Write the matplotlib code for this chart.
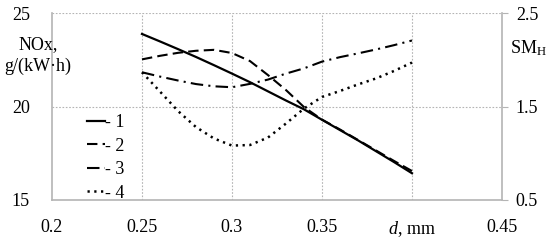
import matplotlib
matplotlib.use('Agg')
import matplotlib.pyplot as plt

plt.rcParams['font.family'] = ['Liberation Serif', 'DejaVu Serif']
plt.rcParams['mathtext.fontset'] = 'custom'
plt.rcParams['mathtext.rm'] = 'Liberation Serif'
plt.rcParams['mathtext.it'] = 'Liberation Serif:italic'

# nozzle hole diameter d, mm
d = [0.25, 0.26, 0.27, 0.28, 0.29, 0.30, 0.31, 0.32,
     0.33, 0.34, 0.35, 0.36, 0.37, 0.38, 0.39, 0.40]

# NOx, g/(kW*h)
nox_1 = [23.88, 23.48, 23.07, 22.65, 22.21, 21.76, 21.30, 20.81,
         20.32, 19.85, 19.29, 18.74, 18.19, 17.61, 17.03, 16.43]
nox_2 = [22.52, 22.71, 22.87, 22.98, 23.03, 22.86, 22.43, 21.68,
         20.88, 19.97, 19.30, 18.77, 18.21, 17.65, 17.09, 16.55]
# SM_H
sm_3 = [1.866, 1.820, 1.778, 1.740, 1.716, 1.706, 1.742, 1.788,
        1.852, 1.908, 1.980, 2.028, 2.068, 2.110, 2.156, 2.206]
sm_4 = [1.866, 1.660, 1.452, 1.280, 1.158, 1.082, 1.088, 1.168,
        1.318, 1.478, 1.602, 1.666, 1.736, 1.800, 1.880, 1.970]

xticks = [0.2, 0.25, 0.3, 0.35, 0.4, 0.45]
xticklabels = ['0.2', '0.25', '0.3', '0.35', r'$\it{d}$, mm', '0.45']
yticks_left = [15, 20, 25]
yticks_right = [0.5, 1.5, 2.5]

fig = plt.figure(figsize=(5.5, 2.4), dpi=100)
ax = fig.add_axes([0.0945, 0.1667, 0.8182, 0.7791])
ax2 = ax.twinx()

gray = '#b4b4b4'
fs = 13

l1, = ax.plot(d, nox_1, color='black', lw=1.6, label='- 1')
l2, = ax.plot(d, nox_2, color='black', lw=1.5, dashes=(5, 2.5), label='- 2')
l3, = ax2.plot(d, sm_3, color='black', lw=1.5, dashes=(6, 2.5, 1, 2.5), label='- 3')
l4, = ax2.plot(d, sm_4, color='black', lw=1.8, dashes=(0.9, 1.8), label='- 4')

ax.set_xlim(0.2, 0.45)
ax.set_ylim(15, 25)
ax2.set_ylim(0.5, 2.5)

ax.set_xticks(xticks)
ax.set_xticklabels(xticklabels, fontsize=fs)
ax.set_yticks(yticks_left)
ax.set_yticklabels([str(v) for v in yticks_left], fontsize=fs)
ax2.set_yticks(yticks_right)
ax2.set_yticklabels([str(v) for v in yticks_right], fontsize=fs)

ax.tick_params(axis='x', length=0, pad=14)
ax.tick_params(axis='y', length=0, pad=16)
ax2.tick_params(axis='y', length=4, color=gray, pad=6)

# dotted grid
for xv in xticks[1:-1]:
    ax.axvline(xv, color=gray, lw=0.8, ls=(0, (1.5, 1.5)), zorder=0)
for yv in [20, 25]:
    ax.axhline(yv, color=gray, lw=0.8, ls=(0, (1.5, 1.5)), zorder=0)

for a in (ax, ax2):
    a.spines['top'].set_visible(False)
    for s in ('left', 'right', 'bottom'):
        a.spines[s].set_color(gray)
        a.spines[s].set_linewidth(1.2)
ax.spines['right'].set_visible(False)
ax2.spines['left'].set_visible(False)
ax2.spines['bottom'].set_visible(False)

fig.text(38 / 550, 1 - 45 / 240, 'NOx,', ha='center', va='center', fontsize=fs)
fig.text(38 / 550, 1 - 66 / 240, 'g/(kW·h)', ha='center', va='center', fontsize=fs)
fig.text(528 / 550, 1 - 48 / 240, r'SM$_\mathrm{H}$', ha='center', va='center', fontsize=fs)

fig.legend(handles=[l1, l2, l3, l4], loc='upper left',
           bbox_to_anchor=(78 / 550, 1 - 105 / 240), frameon=False,
           fontsize=fs, handlelength=1.0, handletextpad=0.0,
           labelspacing=0.36, borderpad=0)

fig.savefig('out.png', dpi=100)
